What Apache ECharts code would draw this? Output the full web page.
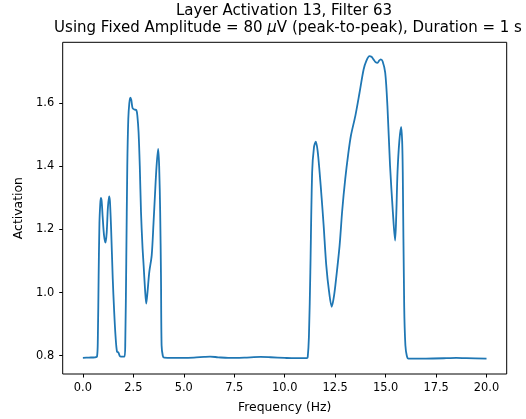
<!DOCTYPE html>
<html>
<head>
<meta charset="utf-8">
<script src="https://cdn.jsdelivr.net/npm/echarts@6/dist/echarts.min.js"></script>
<style>html,body{margin:0;padding:0;background:#fff}#c{width:526px;height:419px}</style>
</head>
<body>
<div id="c"></div>
<script>
const freqs = [0.0,0.3,0.6,0.7,0.74,0.78,0.82,0.86,0.89,0.93,0.98,1.05,1.12,1.18,1.24,1.30,1.34,1.40,1.48,1.55,1.62,1.69,1.76,1.82,1.89,2.06,2.10,2.15,2.20,2.25,2.30,2.35,2.40,2.46,2.55,2.65,2.70,2.76,2.82,2.88,2.95,3.01,3.08,3.14,3.20,3.29,3.41,3.50,3.57,3.65,3.73,3.78,3.83,3.87,3.90,3.96,4.03,5.0,5.5,6.0,6.3,6.7,7.2,8.0,8.8,9.3,10.0,10.5,11.1,11.14,11.2,11.27,11.36,11.45,11.54,11.63,11.73,11.83,11.93,12.06,12.20,12.33,12.42,12.51,12.72,12.85,13.0,13.15,13.28,13.5,13.71,13.91,14.05,14.2,14.3,14.4,14.5,14.6,14.68,14.76,14.85,14.98,15.09,15.22,15.36,15.47,15.53,15.59,15.68,15.77,15.82,15.85,15.92,15.98,16.05,16.13,17.0,18.0,18.5,19.0,20.0];
const activation = [0.793,0.794,0.795,0.797,0.85,1.05,1.22,1.28,1.30,1.29,1.24,1.18,1.158,1.19,1.27,1.305,1.29,1.20,1.044,0.94,0.86,0.813,0.81,0.80,0.797,0.797,0.84,1.10,1.40,1.55,1.60,1.618,1.61,1.585,1.58,1.578,1.56,1.507,1.40,1.255,1.15,1.086,1.01,0.965,1.00,1.065,1.118,1.22,1.307,1.40,1.455,1.40,1.255,1.05,0.833,0.80,0.794,0.793,0.794,0.796,0.797,0.795,0.793,0.794,0.796,0.795,0.793,0.792,0.792,0.795,0.86,1.065,1.381,1.46,1.478,1.45,1.381,1.30,1.212,1.086,1.002,0.955,0.98,1.023,1.149,1.26,1.36,1.44,1.497,1.56,1.634,1.707,1.735,1.749,1.747,1.739,1.73,1.728,1.735,1.739,1.733,1.697,1.591,1.402,1.255,1.165,1.25,1.381,1.48,1.525,1.48,1.381,0.96,0.833,0.80,0.791,0.791,0.792,0.793,0.792,0.791];
const xTicks = [0,2.5,5,7.5,10,12.5,15,17.5,20];
const yTicks = [0.8,1.0,1.2,1.4,1.6];
const titleLine1 = 'Layer Activation 13, Filter 63';
const xName = 'Frequency (Hz)';
const yName = 'Activation';

const data = freqs.map((f,i)=>[f, activation[i]]);
const FONT = 'DejaVu Sans';
const chart = echarts.init(document.getElementById('c'), null, {renderer:'canvas'});
chart.setOption({
  animation:false,
  backgroundColor:'#fff',
  grid:{left:62.7, right:19.3, top:42.3, bottom:44, show:true, borderColor:'#000', borderWidth:1, backgroundColor:'transparent'},
  xAxis:{type:'value', min:-1, max:21,
    name:xName, nameLocation:'middle', nameGap:28,
    nameTextStyle:{fontFamily:FONT, fontSize:12.4, color:'#000'},
    axisLine:{show:false, onZero:false},
    splitLine:{show:false},
    axisTick:{show:true, customValues:xTicks, length:3.5, inside:false, lineStyle:{color:'#000', width:1}},
    axisLabel:{customValues:xTicks, fontFamily:FONT, fontSize:11.4, color:'#000', margin:9, formatter:v=>v.toFixed(1)}
  },
  yAxis:{type:'value', min:0.742, max:1.793,
    name:yName, nameLocation:'middle', nameGap:33.5, nameRotate:90,
    nameTextStyle:{fontFamily:FONT, fontSize:12.4, color:'#000'},
    axisLine:{show:false, onZero:false},
    splitLine:{show:false},
    axisTick:{show:true, customValues:yTicks, length:3.5, lineStyle:{color:'#000', width:1}},
    axisLabel:{customValues:yTicks, fontFamily:FONT, fontSize:11.4, color:'#000', margin:8.5, formatter:v=>v.toFixed(1)}
  },
  graphic:[
    {type:'text', x:284, y:10.9, style:{text:titleLine1, textAlign:'center', textVerticalAlign:'middle', fontFamily:FONT, fontSize:15, fill:'#000'}},
    {type:'text', x:288, y:28.3, style:{
      text:'{n|Using Fixed Amplitude = 80 }{i|μ}{n|V (peak-to-peak), Duration = 1 s}',
      textAlign:'center', textVerticalAlign:'middle',
      rich:{n:{fontFamily:FONT, fontSize:15, color:'#000'}, i:{fontFamily:FONT, fontSize:15, fontStyle:'italic', color:'#000'}}
    }}
  ],
  series:[{type:'line', data:data, smooth:0.3, showSymbol:false, symbol:'none',
    lineStyle:{color:'#1f77b4', width:1.8}, itemStyle:{color:'#1f77b4'}}]
});
</script>
</body>
</html>
